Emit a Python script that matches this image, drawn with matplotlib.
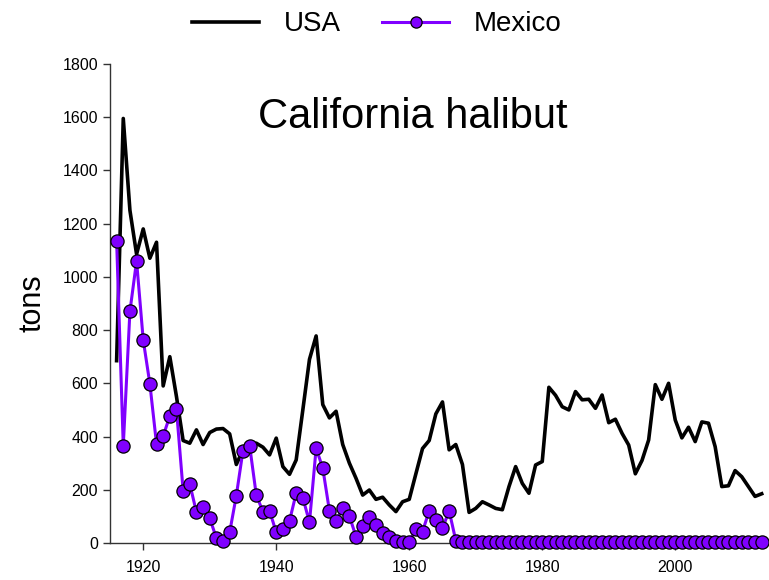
import numpy as np
import matplotlib
matplotlib.use("Agg")
import matplotlib.pyplot as plt

plt.rcParams["font.family"] = ["Liberation Sans", "DejaVu Sans"]

# Landings of California halibut, tons per year
usa_years = list(range(1916, 2014))
usa_tons = [
    685, 1595, 1250, 1085, 1180, 1070, 1130, 590, 700, 550,      # 1916-1925
    385, 375, 425, 370, 415, 428, 430, 410, 295, 350,            # 1926-1935
    368, 375, 360, 331, 394, 287, 258, 312, 500, 690,            # 1936-1945
    778, 520, 470, 495, 370, 300, 243, 180, 199, 164,            # 1946-1955
    172, 143, 118, 155, 164, 260, 355, 385, 485, 530,            # 1956-1965
    350, 370, 295, 115, 130, 155, 143, 130, 125, 212,            # 1966-1975
    287, 224, 187, 293, 306, 585, 555, 512, 500, 569,            # 1976-1985
    538, 540, 506, 556, 452, 465, 412, 368, 260, 310,            # 1986-1995
    387, 595, 540, 600, 462, 395, 435, 381, 455, 450,            # 1996-2005
    362, 212, 215, 272, 249, 212, 175, 185,                      # 2006-2013
]

mexico_years = list(range(1916, 2014))
mexico_tons = [
    1135, 365, 870, 1060, 763, 598, 372, 402, 477, 502,          # 1916-1925
    197, 222, 116, 134, 93, 19, 6, 40, 178, 347,                 # 1926-1935
    366, 180, 118, 121, 40, 51, 83, 187, 170, 78,                # 1936-1945
    356, 281, 121, 84, 130, 101, 24, 65, 99, 68,                 # 1946-1955
    36, 21, 6, 5, 5, 51, 43, 121, 86, 55,                        # 1956-1965
    121, 9,                                                      # 1966-1967
] + [3] * 46                                                     # 1968-2013

fig = plt.figure(figsize=(7.69, 5.80), dpi=100)
ax = fig.add_axes([0.143, 0.0638, 0.8648, 0.826])

ax.plot(usa_years, usa_tons, color="black", lw=2.6, label="USA",
        solid_joinstyle="round", zorder=2)
ax.plot(mexico_years, mexico_tons, color="#8000ff", lw=2.2, marker="o",
        markersize=9.5, markerfacecolor="#8000ff", markeredgecolor="black",
        markeredgewidth=0.9, label="Mexico", clip_on=False, zorder=3)

ax.set_xlim(1915, 2015)
ax.set_ylim(0, 1800)
ax.set_xticks([1920, 1940, 1960, 1980, 2000])
ax.set_yticks(np.arange(0, 1801, 200))
ax.tick_params(axis="both", labelsize=11.5, direction="out", length=5,
               width=1, color="#333333")
ax.tick_params(axis="x", pad=7)
for side in ("top", "right"):
    ax.spines[side].set_visible(False)
for side in ("left", "bottom"):
    ax.spines[side].set_color("#333333")
    ax.spines[side].set_linewidth(1)

ax.set_ylabel("tons", fontsize=22, labelpad=11)
ax.text(0.455, 0.89, "California halibut", transform=ax.transAxes,
        fontsize=30, ha="center", va="center")

fig.legend(loc="center", bbox_to_anchor=(0.49, 0.958), ncol=2,
           frameon=False, fontsize=20, handlelength=2.4, handletextpad=0.9,
           columnspacing=1.5, markerscale=0.85)

fig.savefig("out.png", dpi=100)
